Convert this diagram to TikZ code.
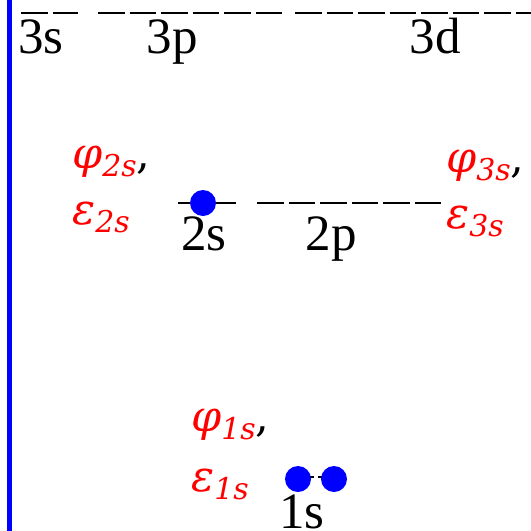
\documentclass[tikz,border=0pt]{standalone}
\usepackage{fontspec}
\setmainfont{Liberation Serif}
\newfontfamily\wffont{DejaVu Serif}
\usepackage{xcolor}
\usepackage{tikz}
\definecolor{elecblue}{RGB}{0,0,255}
\definecolor{wfred}{RGB}{255,0,0}

% wave function / energy label: red symbol, red subscript, optional black comma
\newcommand{\wfsym}[2]{{\color{wfred}\itshape #1\raisebox{-8pt}{\fontsize{30}{32}\selectfont #2}}}

\begin{document}
\begin{tikzpicture}[x=1pt,y=-1pt,
    level/.style={line width=2pt,dash pattern=on 26.5pt off 5pt},
    elec/.style={circle,fill=elecblue,minimum size=26pt,inner sep=0pt},
    shell/.style={anchor=base,inner sep=0pt,font=\fontsize{51}{60}\selectfont},
    wf/.style={anchor=base west,inner sep=0pt,font=\wffont\fontsize{43}{50}\selectfont}]
  \useasboundingbox (0,0) rectangle (531,531);
  \clip (0,0) rectangle (531,531);
  % ---- axis ----
  \draw[elecblue,line width=5pt] (9.5,-5) -- (9.5,540);
  % ---- n = 3 levels ----
  \draw[level] (21,13) -- (78,13);
  \draw[level] (98,13) -- (283,13);
  \draw[level] (295,13) -- (605,13);
  \node[shell] (l3s) at (41,53) {3s};
  \node[shell] (l3p) at (172,53) {3p};
  \node[shell] (l3d) at (435,53) {3d};
  % ---- n = 2 levels ----
  \draw[level] (178,203) -- (236,203);
  \draw[level] (257,203) -- (441,203);
  \node[shell] (l2s) at (204,250) {2s};
  \node[shell] (l2p) at (331,250) {2p};
  \node[elec] (e2s) at (203,203) {};
  % ---- n = 1 level ----
  \draw[line width=2pt,dash pattern=on 24pt off 4pt] (290,477) -- (342,477);
  \node[elec] (e1sa) at (298,479) {};
  \node[elec] (e1sb) at (334,479) {};
  \node[shell] (l1s) at (302,528) {1s};
  % ---- orbitals and energies ----
  \node[wf] (phi2s) at (72,168) {\wfsym{φ}{2s},};
  \node[wf] (eps2s) at (72,224) {\wfsym{ε}{2s}};
  \node[wf] (phi3s) at (446,172) {\wfsym{φ}{3s},};
  \node[wf] (eps3s) at (446,228) {\wfsym{ε}{3s}};
  \node[wf] (phi1s) at (191,431) {\wfsym{φ}{1s},};
  \node[wf] (eps1s) at (191,491) {\wfsym{ε}{1s}};
\end{tikzpicture}
\end{document}
